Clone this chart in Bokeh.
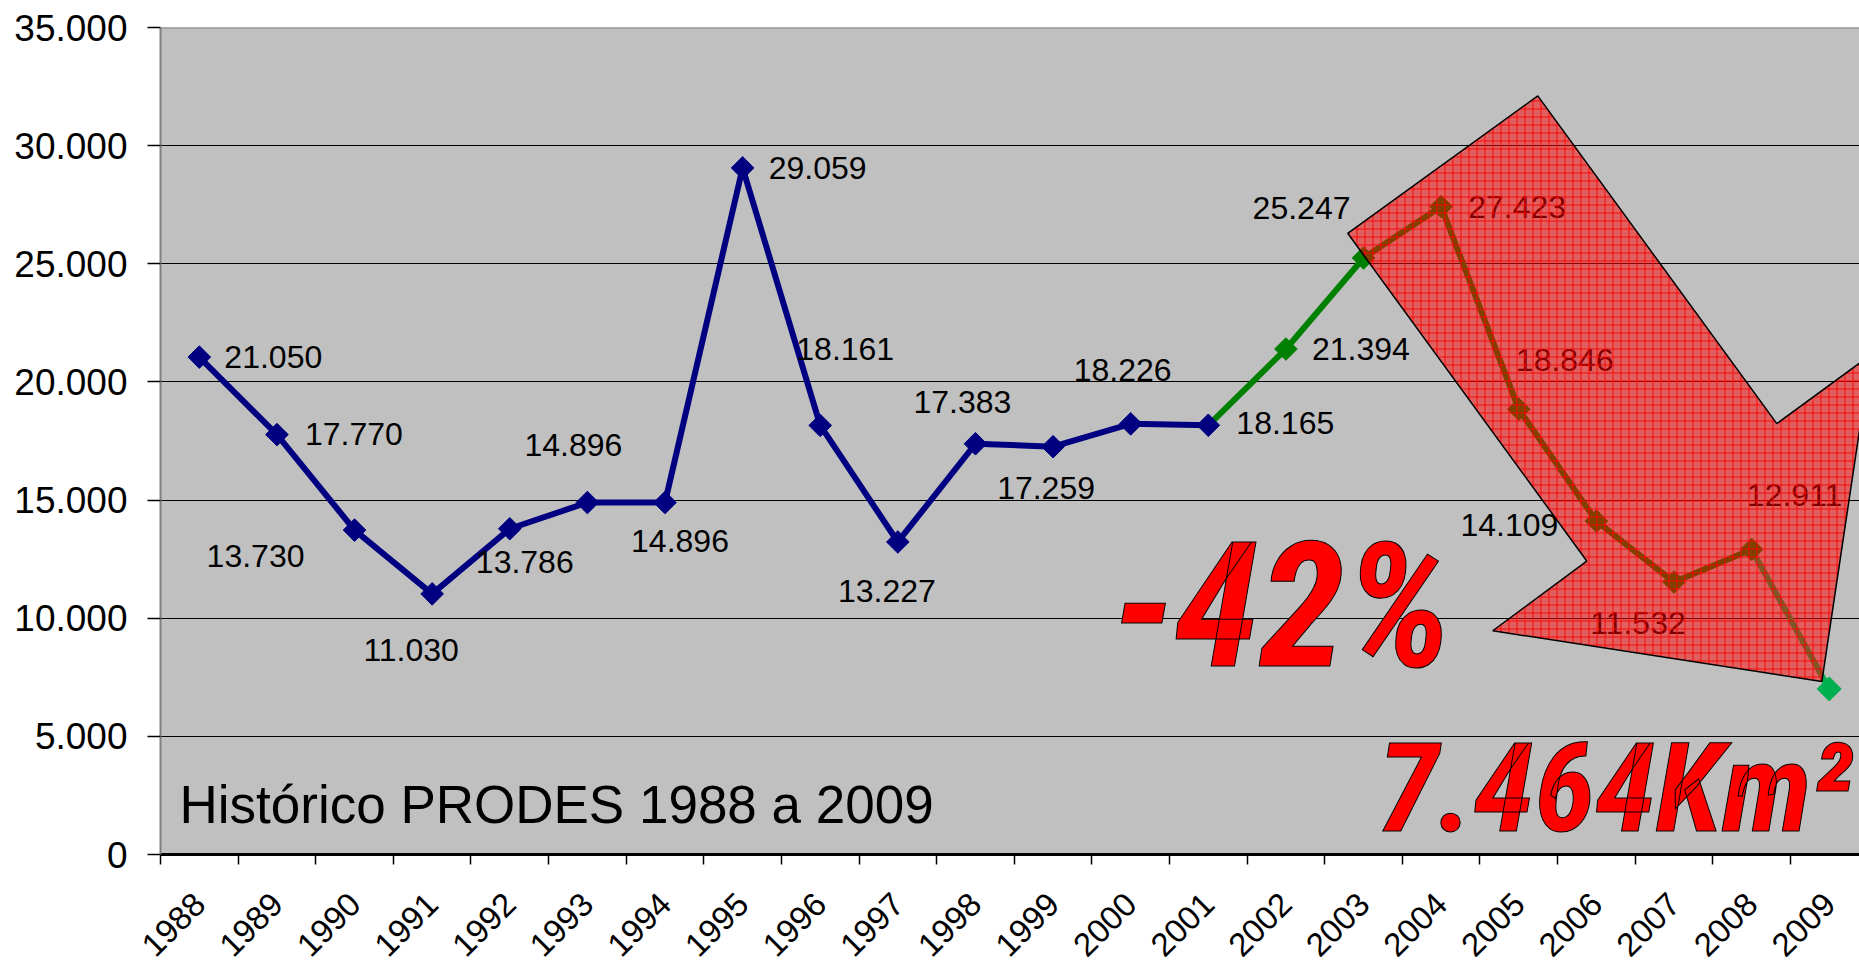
import math
from bokeh.plotting import figure
from bokeh.models import Range1d, FixedTicker, Span, ColumnDataSource
from bokeh.core.properties import value
from bokeh.embed import file_html
from bokeh.resources import INLINE

# ---- data ----
years = [str(y) for y in range(1988, 2010)]
values = [21050, 17770, 13730, 11030, 13786, 14896, 14896, 29059, 18161, 13227,
          17383, 17259, 18226, 18165, 21394, 25247, 27423, 18846, 14109, 11532,
          12911, 7008]
y_ticks = [0, 5000, 10000, 15000, 20000, 25000, 30000, 35000]
y_tick_labels = ["0", "5.000", "10.000", "15.000", "20.000", "25.000", "30.000", "35.000"]

title_text = "Histórico PRODES 1988 a 2009"
pct_text = "-42%"
area_text = "7.464Km²"

# arrow annotation outline (x in category units, y in km²)
arrow_x = [17.245, 14.796, 17.876, 16.665, 20.905, 21.536, 20.325]
arrow_y = [32107, 26290, 12420, 9469, 7319, 21144, 18235]

# data label placement (pixels, screen offsets from the point)
label_dx = [74, 77, -99, -21, 15, -14, 15, 75, 25, -11, -13, -7, -8, 77, 75, -62, 76, 46, -87, -36, 43]
label_dy = [0, -1, 26, 56, 33, -58, 38, 0, -76, 49, -42, 41, -54, -2, 0, -50, 0, -49, 4, 41, -54]

xs = list(range(len(years)))
labels = [f"{v:,}".replace(",", ".") for v in values[:21]]

FONT = value("Liberation Sans")
BIG = value("Roboto Condensed, Noto Sans ExtraCondensed, Liberation Sans Narrow, DejaVu Sans Condensed, sans-serif")

p = figure(width=1859, height=969, output_backend="svg", toolbar_location=None,
           x_range=Range1d(-0.5, 21.39), y_range=Range1d(0, 35000),
           min_border_left=160, min_border_right=0, min_border_top=27, min_border_bottom=112)
p.background_fill_color = "#C0C0C0"
p.border_fill_color = "white"
p.outline_line_color = None

# axes
p.xaxis.ticker = FixedTicker(ticks=xs, minor_ticks=[i - 0.5 for i in range(len(years) + 1)])
p.xaxis.major_label_overrides = {i: y for i, y in enumerate(years)}
p.xaxis.major_label_orientation = math.pi / 4
p.xaxis.major_label_text_font = "Liberation Sans"
p.xaxis.major_label_text_font_size = "33px"
p.xaxis.major_label_text_color = "black"
p.xaxis.major_label_standoff = 34
p.xaxis.major_tick_line_color = None
p.xaxis.minor_tick_line_color = "black"
p.xaxis.minor_tick_line_width = 1.5
p.xaxis.minor_tick_out = 10
p.xaxis.minor_tick_in = 0
p.xaxis.axis_line_color = "black"
p.xaxis.axis_line_width = 3

p.yaxis.ticker = FixedTicker(ticks=y_ticks)
p.yaxis.major_label_overrides = {t: s for t, s in zip(y_ticks, y_tick_labels)}
p.yaxis.major_label_text_font = "Liberation Sans"
p.yaxis.major_label_text_font_size = "37px"
p.yaxis.major_label_text_color = "black"
p.yaxis.major_label_standoff = 20
p.yaxis.major_tick_line_color = "black"
p.yaxis.major_tick_line_width = 1.5
p.yaxis.major_tick_out = 13
p.yaxis.major_tick_in = 0
p.yaxis.minor_tick_line_color = None
p.yaxis.axis_line_color = "#808080"
p.yaxis.axis_line_width = 2

p.xgrid.grid_line_color = None
p.ygrid.ticker = FixedTicker(ticks=y_ticks[1:-1])
p.ygrid.grid_line_color = "black"
p.ygrid.grid_line_width = 1

p.add_layout(Span(location=35000, dimension="width", line_color="#808080", line_width=2))

# series lines
p.line(xs[:14], values[:14], line_color="#000080", line_width=6)
p.line(xs[13:21], values[13:21], line_color="#008000", line_width=6)
p.line(xs[20:22], values[20:22], line_color="#00B050", line_width=6)

# markers
p.scatter(xs[:14], values[:14], marker="square", angle=math.pi / 4, size=16,
          fill_color="#000080", line_color="#000080")
p.scatter(xs[14:21], values[14:21], marker="square", angle=math.pi / 4, size=16,
          fill_color="#008000", line_color="#008000")
p.scatter(xs[21:22], values[21:22], marker="square", angle=math.pi / 4, size=17,
          fill_color="#00B050", line_color="#00B050")

# data labels
lab_src = ColumnDataSource(dict(x=xs[:21], y=values[:21], text=labels, dx=label_dx, dy=label_dy))
p.text(x="x", y="y", text="text", x_offset="dx", y_offset="dy", source=lab_src,
       text_font=FONT, text_font_size="32px", text_color="black",
       text_align="center", text_baseline="middle")

# title inside plot
p.text(x=[-0.255], y=[2108], text=[title_text], text_font=FONT, text_font_size="53px",
       text_color="black", text_align="left", text_baseline="middle")

# arrow overlay
p.patch(arrow_x, arrow_y, fill_color="red", fill_alpha=0.5,
        hatch_pattern="cross", hatch_color="red", hatch_alpha=0.9, hatch_scale=8, hatch_weight=1,
        line_color="black", line_width=1.5)

# big texts
p.text(x=[13.96], y=[10500], text=[pct_text], text_font=BIG, text_font_size="174px",
       text_font_style="bold italic", text_color="red", text_align="center",
       text_baseline="middle", text_outline_color="black")
p.text(x=[21.3], y=[2783], text=[area_text], text_font=BIG, text_font_size="124px",
       text_font_style="bold italic", text_color="red", text_align="right",
       text_baseline="middle", text_outline_color="black")

open("out.html", "w").write(file_html(p, INLINE))
